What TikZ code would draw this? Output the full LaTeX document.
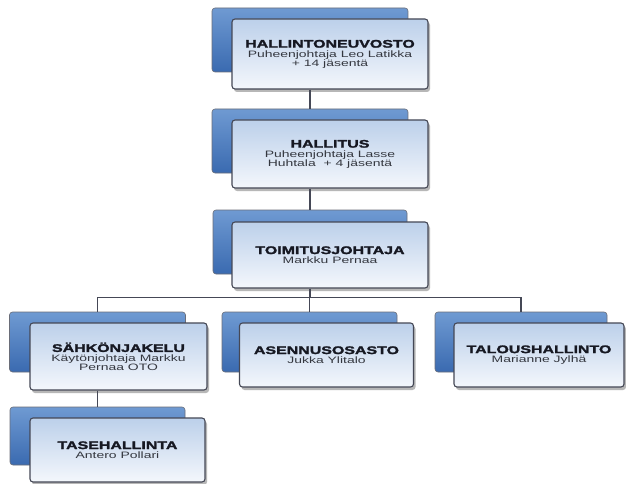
\documentclass[tikz,border=0pt]{standalone}
\usepackage{fontspec}
\newfontfamily\subfont[FakeStretch=1.5]{Liberation Sans}
\newfontfamily\ttlfont[FakeStretch=1.45,FakeBold=2.2]{Liberation Sans Bold}
\usetikzlibrary{shadows}
\definecolor{backtop}{HTML}{6F9AD2}
\definecolor{backbot}{HTML}{3A6AB0}
\definecolor{fronttop}{HTML}{BCD0EA}
\definecolor{frontbot}{HTML}{F4F7FC}
\definecolor{edge}{HTML}{454856}
\definecolor{titlecol}{HTML}{161822}
\definecolor{subcol}{HTML}{34373F}
\tikzset{
  backbox/.style={draw=edge!80, line width=0.6pt, rounded corners=3pt,
    top color=backtop, bottom color=backbot, minimum width=#1, minimum height=64pt, inner sep=0pt},
  frontbox/.style={draw=edge, line width=1.1pt, rounded corners=3pt,
    top color=fronttop, bottom color=frontbot, minimum width=#1, minimum height=66pt,
    inner sep=0pt, align=center,
    drop shadow={shadow xshift=2pt, shadow yshift=-3pt, opacity=0.4, fill=black!70},
    font=\subfont\fontsize{9.3}{9}\selectfont, text=subcol},
  conn/.style={draw=edge, line width=1.2pt}
}
\newcommand{\ttl}[1]{{\ttlfont\fontsize{11}{11}\selectfont\color{titlecol}#1}\\[0.5pt]}
\begin{document}
\begin{tikzpicture}[x=1pt,y=-1pt]
\useasboundingbox[fill=white] (0,0) rectangle (626,484);
\node[backbox=196pt] (hnb) at (310,40) {};
\node[frontbox=196pt, minimum height=70pt] (hn) at (330,54) {\ttl{HALLINTONEUVOSTO}Puheenjohtaja Leo Latikka\\+ 14 jäsentä};
\node[backbox=196pt] (halb) at (310,141) {};
\node[frontbox=196pt, minimum height=68pt] (hal) at (330,154) {\ttl{HALLITUS}Puheenjohtaja Lasse\\Huhtala \ + 4 jäsentä};
\node[backbox=194pt] (tjb) at (310,242) {};
\node[frontbox=196pt] (tj) at (330,255) {\ttl{TOIMITUSJOHTAJA}Markku Pernaa};
\node[backbox=176pt, minimum height=60pt] (sjb) at (97.5,342) {};
\node[frontbox=177pt, minimum height=67pt] (sj) at (118.5,356.5) {\ttl{SÄHKÖNJAKELU}Käytönjohtaja Markku\\Pernaa OTO};
\node[backbox=175pt, minimum height=60pt] (asb) at (309.5,342) {};
\node[frontbox=174pt, minimum height=64pt] (as) at (326.5,355) {\ttl{ASENNUSOSASTO}Jukka Ylitalo};
\node[backbox=172pt, minimum height=60pt] (tab) at (521,342) {};
\node[frontbox=170pt, minimum height=64pt] (ta) at (539,355) {\ttl{TALOUSHALLINTO}Marianne Jylhä};
\node[backbox=175pt, minimum height=58pt] (thb) at (97.5,436) {};
\node[frontbox=175pt, minimum height=64pt] (th) at (117.5,450) {\ttl{TASEHALLINTA}Antero Pollari};
\draw[conn] (hnb.center |- hn.south) -- (halb.north);
\draw[conn] (halb.center |- hal.south) -- (tjb.north);
\draw[conn] (tjb.center |- tj.south) -- ++(0,9) coordinate (bus);
\draw[conn] (sjb.north) |- (bus) -| (tab.north);
\draw[conn] (asb.north) -- (asb.north |- bus);
\draw[conn] (sjb.center |- sj.south) -- (thb.north);
\end{tikzpicture}
\end{document}
